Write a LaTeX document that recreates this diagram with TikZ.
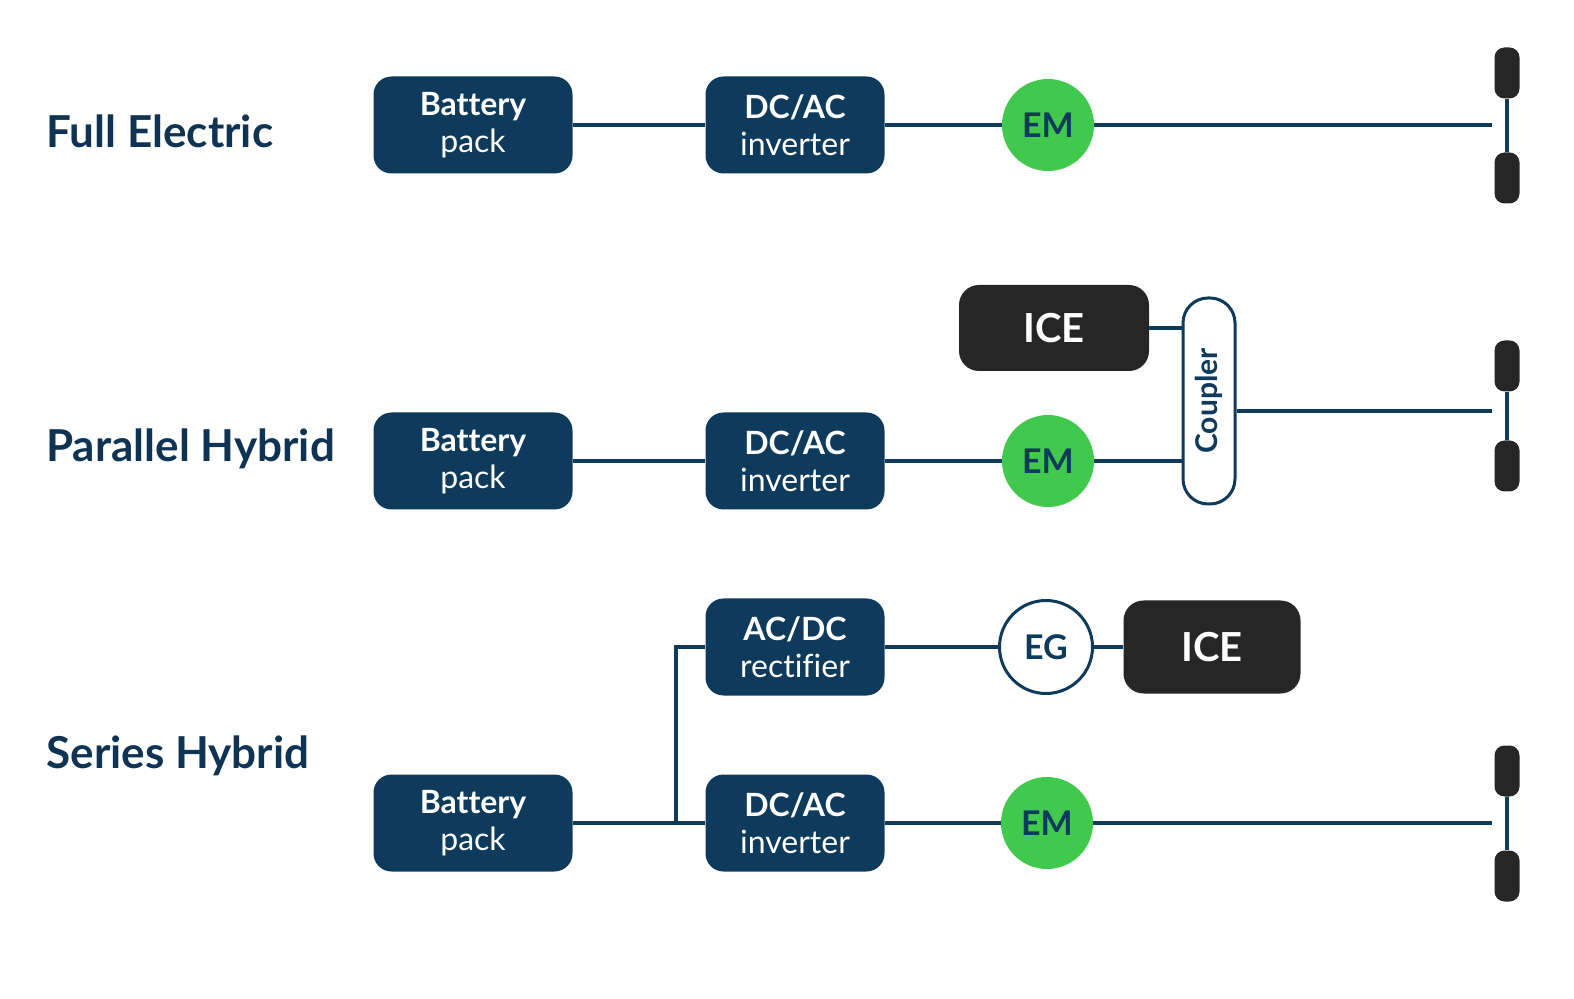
\documentclass[tikz,border=0pt]{standalone}
\usepackage{fontspec}
\setmainfont[Ligatures=NoCommon]{Lato}
\definecolor{navy}{HTML}{0E3A5B}
\definecolor{titlec}{HTML}{0F3352}
\definecolor{emgreen}{HTML}{41C94D}
\definecolor{icec}{HTML}{262626}
\begin{document}
\begin{tikzpicture}[x=0.5pt,y=-0.5pt,
  box/.style={fill=navy, rounded corners=9pt, text=white, align=center, inner sep=0pt,
    font=\fontsize{16}{18.5}\selectfont, minimum width=89.5pt, minimum height=48.5pt},
  batbox/.style={box, minimum width=99.5pt},
  icebox/.style={fill=icec, rounded corners=10pt, text=white, inner sep=0pt,
    font=\fontsize{20}{20}\selectfont\bfseries},
  em/.style={circle, fill=emgreen, text=navy, minimum size=46pt, inner sep=0pt,
    font=\fontsize{17}{17}\selectfont\bfseries},
  eg/.style={circle, fill=white, draw=navy, line width=1.5pt, text=navy, minimum size=46.5pt, inner sep=0pt,
    font=\fontsize{17}{17}\selectfont\bfseries},
  wheel/.style={fill=icec, rounded corners=5pt, minimum width=12.5pt, minimum height=25.5pt, inner sep=0pt},
  conn/.style={draw=navy, line width=2.1pt},
  rowtitle/.style={anchor=base west, text=titlec, inner sep=0pt, font=\fontsize{22}{22}\selectfont\bfseries},
  coupler/.style={draw=navy, line width=1.5pt, fill=white, rounded corners=12.5pt,
    minimum width=26pt, minimum height=103pt, inner sep=0pt}
]
\useasboundingbox (0,0) rectangle (1574,999);

% ---- Full Electric
\node[rowtitle] (t1) at (46,148) {Full Electric};
\node[batbox] (bat1) at (473,125) {\textbf{Battery}\\pack};
\node[box] (inv1) at (795,125) {\textbf{DC/AC}\\inverter};
\node[em] (em1) at (1048,125) {EM};
\node[wheel] (w1t) at (1507,73) {};
\node[wheel] (w1b) at (1507,178) {};
\coordinate (a1) at (1492,125);
\draw[conn] (bat1.east) -- (inv1.west);
\draw[conn] (inv1.east) -- (em1.west);
\draw[conn] (em1.east) -- (a1);
\draw[navy, line width=1.8pt] (w1t.south) -- (w1b.north);

% ---- Parallel Hybrid
\node[rowtitle] (t2) at (46,462) {Parallel Hybrid};
\node[icebox, minimum width=95pt, minimum height=43pt] (ice1) at (1054,328) {ICE};
\node[coupler] (cp) at (1209,401) {};
\node[rotate=90, text=navy, font=\fontsize{15}{15}\selectfont\bfseries] (cpt) at (cp.center) {Coupler};
\node[batbox] (bat2) at (473,461) {\textbf{Battery}\\pack};
\node[box] (inv2) at (795,461) {\textbf{DC/AC}\\inverter};
\node[em] (em2) at (1048,461) {EM};
\node[wheel] (w2t) at (1507,366) {};
\node[wheel] (w2b) at (1507,466) {};
\coordinate (a2) at (1492,411);
\draw[conn] (bat2.east) -- (inv2.west);
\draw[conn] (inv2.east) -- (em2.west);
\draw[conn] (em2.east) -- (em2.east -| cp.west);
\draw[conn] (ice1.east) -- (ice1.east -| cp.west);
\draw[conn] (cp.east |- a2) -- (a2);
\draw[navy, line width=1.8pt] (w2t.south) -- (w2b.north);

% ---- Series Hybrid
\node[rowtitle] (t3) at (46,768) {Series Hybrid};
\node[box] (rect) at (795,647) {\textbf{AC/DC}\\rectifier};
\node[eg] (eg) at (1046,647) {EG};
\node[icebox, minimum width=88.5pt, minimum height=46.5pt] (ice2) at (1212,647) {ICE};
\node[batbox] (bat3) at (473,823) {\textbf{Battery}\\pack};
\node[box] (inv3) at (795,823) {\textbf{DC/AC}\\inverter};
\node[em] (em3) at (1047,823) {EM};
\node[wheel] (w3t) at (1507,771) {};
\node[wheel] (w3b) at (1507,876) {};
\coordinate (a3) at (1492,823);
\coordinate (j) at (676,823);
\draw[conn] (bat3.east) -- (inv3.west);
\draw[conn] (j) |- (rect.west);
\draw[conn] (rect.east) -- (eg.west);
\draw[conn] (eg.east) -- (ice2.west);
\draw[conn] (inv3.east) -- (em3.west);
\draw[conn] (em3.east) -- (a3);
\draw[navy, line width=1.8pt] (w3t.south) -- (w3b.north);
\end{tikzpicture}
\end{document}
